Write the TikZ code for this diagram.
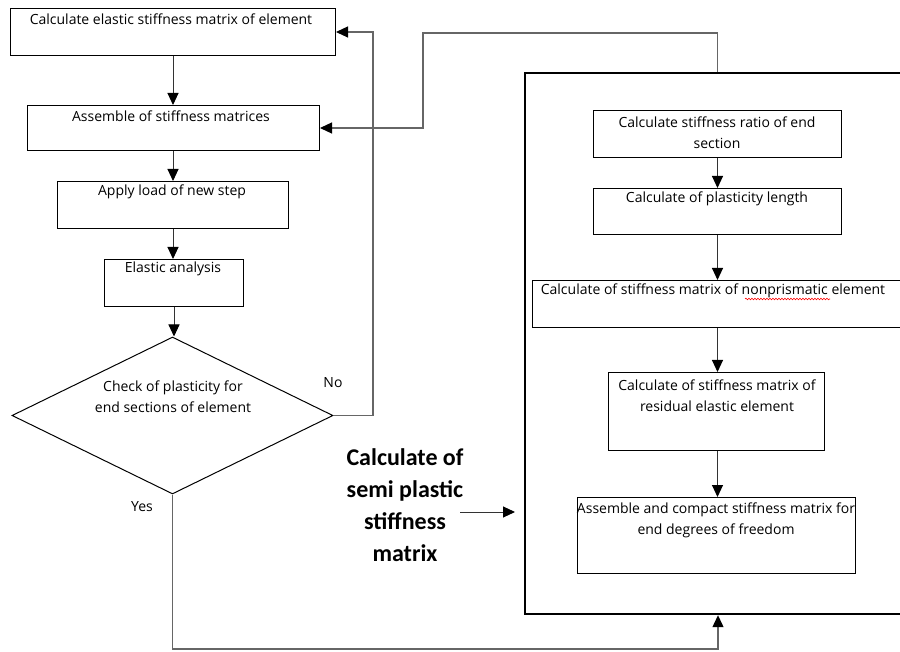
\documentclass[tikz,border=0pt]{standalone}
\usepackage{fontspec}
\setmainfont{Open Sans}
\newfontfamily\boldfont{Carlito}
\usetikzlibrary{arrows.meta,shapes.geometric,decorations.pathmorphing}
\begin{document}
\begin{tikzpicture}[x=1pt,y=-1pt,
  font=\fontsize{14}{21}\selectfont,
  box/.style={draw, line width=1pt, inner sep=0pt, anchor=north west},
  txt/.style={inner sep=0pt, align=center},
  tip/.style={-{Triangle[length=12pt,width=11pt,color=black]}},
  arr/.style={tip, line width=1pt, draw=black!80},
  back/.style={tip, line width=1.2pt, draw=black!60}]
\useasboundingbox (0,0) rectangle (900,652);
\fill[white] (0,0) rectangle (900,652);
% left column boxes
\node[box, minimum width=325pt, minimum height=47pt] (b1) at (10,8) {};
\node[box, minimum width=292pt, minimum height=45pt] (b2) at (27,105) {};
\node[box, minimum width=231pt, minimum height=47pt] (b3) at (57,181) {};
\node[box, minimum width=139pt, minimum height=47pt] (b4) at (104,259) {};
\node[draw, line width=1pt, diamond, aspect=2.04, inner sep=0pt,
      minimum width=321pt, minimum height=157pt] (d) at (172.5,415.5) {};
\node[txt] (t1) at (171,19) {Calculate elastic stiffness matrix of element};
\node[txt] (t2) at (171,116) {Assemble of stiffness matrices};
\node[txt] (t3) at (172,192) {Apply load of new step};
\node[txt] (t4) at (173,269) {Elastic analysis};
\node[txt] (td) at (173,397) {Check of plasticity for\\end sections of element};
\node[txt] (no) at (333,383) {No};
\node[txt] (yes) at (142,507) {Yes};
% outer box and inner boxes
\node[box, line width=2.2pt, minimum width=400pt, minimum height=541pt] (outer) at (524,72) {};
\node[box, minimum width=248pt, minimum height=47pt] (i1) at (593,110) {};
\node[box, minimum width=248pt, minimum height=46pt] (i2) at (593,188) {};
\node[box, minimum width=372pt, minimum height=47pt] (i3) at (532,280) {};
\node[box, minimum width=216pt, minimum height=78pt] (i4) at (608,372) {};
\node[box, minimum width=278pt, minimum height=76pt] (i5) at (577,497) {};
\node[txt] (ti1) at (717,133) {Calculate stiffness ratio of end\\section};
\node[txt] (ti2) at (717,199) {Calculate of plasticity length};
\node[txt] (ti3) at (713,291) {Calculate of stiffness matrix of nonprismatic element};
\node[txt] (ti4) at (717,395.5) {Calculate of stiffness matrix of\\residual elastic element};
\node[txt] (ti5) at (716,520.5) {Assemble and compact stiffness matrix for\\end degrees of freedom};
\draw[red, line width=0.6pt, decorate, decoration={snake, segment length=3pt, amplitude=0.8pt}]
  (745,299) -- (830,299);
% bold label
\node[txt, font=\boldfont\bfseries\fontsize{24}{32}\selectfont] (lab) at (405,505.5)
  {Calculate of\\semi plastic\\stiffness\\matrix};
\coordinate (ls) at (460,512);
\coordinate (le) at (515,512);
\draw[arr] (ls) -- (le);
% main flow
\draw[arr] (b1.south) -- (b1.south |- b2.north);
\draw[arr] (b2.south -| b3.north) -- (b3.north);
\draw[arr] (b3.south) -- (b3.south |- b4.north);
\draw[arr] (b4.south) -- (b4.south |- d.north);
% No loop
\coordinate (nc) at (373,415.5);
\draw[back] (d.east) -- (nc) |- (b1.east);
% top loop from outer box to b2
\coordinate (tc) at (423,33);
\draw[back] (i1.north |- outer.north) |- (tc) |- (b2.east);
% Yes path
\coordinate (yc) at (718,649);
\draw[back] (d.south) |- (yc) -- (yc |- outer.south);
% inner flow
\draw[arr] (i1.south) -- (i1.south |- i2.north);
\draw[arr] (i2.south) -- (i2.south |- i3.north);
\draw[arr] (i2.south |- i3.south) -- (i2.south |- i4.north);
\draw[arr] (i2.south |- i4.south) -- (i2.south |- i5.north);
\end{tikzpicture}
\end{document}
